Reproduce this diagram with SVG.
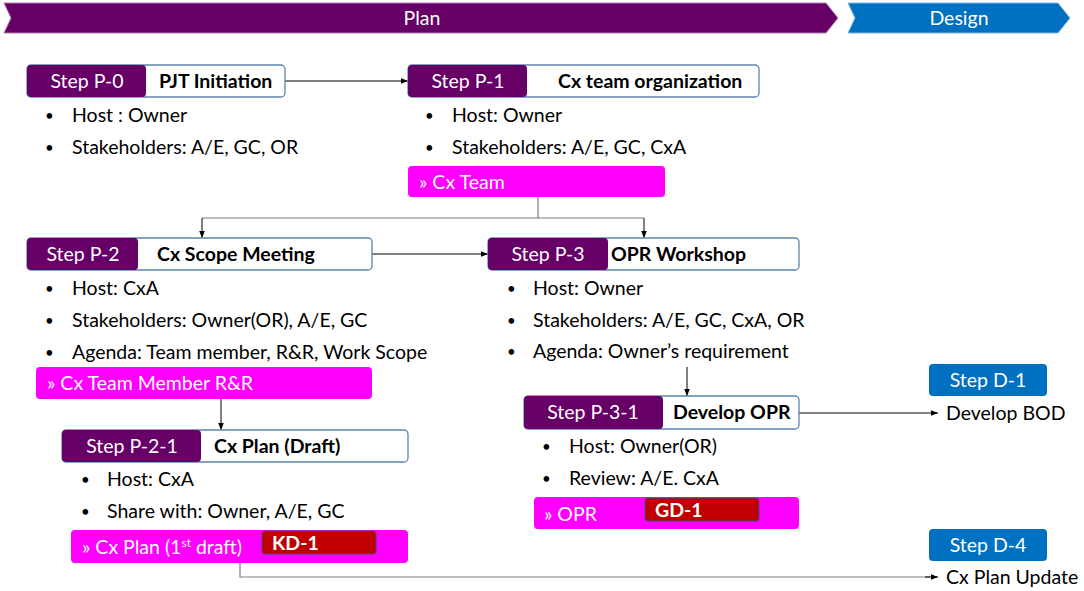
<svg xmlns="http://www.w3.org/2000/svg" width="1084" height="591" viewBox="0 0 1084 591">
<defs>
<marker id="ah" viewBox="0 0 10 10" refX="10" refY="5" markerWidth="7" markerHeight="7" markerUnits="userSpaceOnUse" orient="auto"><path d="M0,1 L10,5 L0,9 z" fill="#000"/></marker>
<style>
text{font-family:Lato,"Liberation Sans",sans-serif;font-size:19.5px;fill:#000}
.bl{font-size:15px}
.box{fill:#fff;stroke:#5b84b1;stroke-width:1.3}
.tab{fill:#660066}
.wt{fill:#fff}
.b{font-weight:bold}
.mag{fill:#ff00ff}
.red{fill:#c00000;stroke:#3d4f7a;stroke-width:1}
.blue{fill:#0070c0}
.ln{fill:none;stroke:#000;stroke-width:1}
.ln2{fill:none;stroke:#7f7f7f;stroke-width:1.2}
</style>
</defs>
<rect width="1084" height="591" fill="#fff"/>
<g id="phase-plan">
<path d="M4,3 L826,3 L838,18 L826,33 L4,33 L11,18 z" fill="#660066" stroke="#b07ab0" stroke-width="1"/>
<text x="422" y="25" class="wt" text-anchor="middle">Plan</text>
</g>
<g id="phase-design">
<path d="M848,3 L1058,3 L1070,18 L1058,33 L848,33 L855,18 z" fill="#0070c0" stroke="#7fb5e0" stroke-width="1"/>
<text x="959" y="25" class="wt" text-anchor="middle">Design</text>
</g>
<g id="connectors">
<line class="ln" x1="285" y1="81" x2="408" y2="81" marker-end="url(#ah)"/>
<polyline class="ln2" points="538,197 538,218 202,218" />
<line class="ln" x1="202" y1="218" x2="202" y2="238" marker-end="url(#ah)"/>
<polyline class="ln2" points="538,218 644,218"/>
<line class="ln" x1="644" y1="218" x2="644" y2="238" marker-end="url(#ah)"/>
<line class="ln" x1="372" y1="254" x2="488" y2="254" marker-end="url(#ah)"/>
<line class="ln" x1="221" y1="399" x2="221" y2="430" marker-end="url(#ah)"/>
<line class="ln" x1="687" y1="367" x2="687" y2="396" marker-end="url(#ah)"/>
<line class="ln" x1="799" y1="413" x2="938" y2="413" marker-end="url(#ah)"/>
<polyline class="ln2" points="240,563 240,577 930,577"/>
<line class="ln" x1="925" y1="577" x2="938" y2="577" marker-end="url(#ah)"/>
</g>
<g id="step-p0">
<rect class="box" x="27" y="65" width="258" height="32" rx="4"/>
<rect class="tab" x="27" y="65" width="119" height="32" rx="4"/>
<text x="87" y="88" class="wt" text-anchor="middle">Step P-0</text>
<text x="159" y="88" class="b">PJT Initiation</text>
<text x="45" y="121" class="bl">•</text><text x="72" y="122">Host : Owner</text>
<text x="45" y="153" class="bl">•</text><text x="72" y="154">Stakeholders: A/E, GC, OR</text>
</g>
<g id="step-p1">
<rect class="box" x="408" y="65" width="351" height="32" rx="4"/>
<rect class="tab" x="408" y="65" width="119" height="32" rx="4"/>
<text x="468" y="88" class="wt" text-anchor="middle">Step P-1</text>
<text x="558" y="88" class="b">Cx team organization</text>
<text x="425" y="121" class="bl">•</text><text x="452" y="122">Host: Owner</text>
<text x="425" y="153" class="bl">•</text><text x="452" y="154">Stakeholders: A/E, GC, CxA</text>
<rect class="mag" x="408" y="166" width="257" height="31" rx="4"/>
<text x="419" y="189" class="wt">» Cx Team</text>
</g>
<g id="step-p2">
<rect class="box" x="27" y="238" width="345" height="32" rx="4"/>
<rect class="tab" x="27" y="238" width="111" height="32" rx="4"/>
<text x="83" y="261" class="wt" text-anchor="middle">Step P-2</text>
<text x="157" y="261" class="b">Cx Scope Meeting</text>
<text x="45" y="294" class="bl">•</text><text x="72" y="295">Host: CxA</text>
<text x="45" y="326" class="bl">•</text><text x="72" y="327">Stakeholders: Owner(OR), A/E, GC</text>
<text x="45" y="358" class="bl">•</text><text x="72" y="359">Agenda: Team member, R&amp;R, Work Scope</text>
<rect class="mag" x="36" y="367" width="336" height="32" rx="4"/>
<text x="47" y="390" class="wt">» Cx Team Member R&amp;R</text>
</g>
<g id="step-p3">
<rect class="box" x="488" y="238" width="311" height="32" rx="4"/>
<rect class="tab" x="488" y="238" width="120" height="32" rx="4"/>
<text x="548" y="261" class="wt" text-anchor="middle">Step P-3</text>
<text x="611" y="261" class="b">OPR Workshop</text>
<text x="507" y="294" class="bl">•</text><text x="533" y="295">Host: Owner</text>
<text x="507" y="326" class="bl">•</text><text x="533" y="327">Stakeholders: A/E, GC, CxA, OR</text>
<text x="507" y="357" class="bl">•</text><text x="533" y="358">Agenda: Owner’s requirement</text>
</g>
<g id="step-p2-1">
<rect class="box" x="62" y="430" width="346" height="32" rx="4"/>
<rect class="tab" x="62" y="430" width="139" height="32" rx="4"/>
<text x="132" y="453" class="wt" text-anchor="middle">Step P-2-1</text>
<text x="214" y="453" class="b">Cx Plan (Draft)</text>
<text x="81" y="485" class="bl">•</text><text x="107" y="486">Host: CxA</text>
<text x="81" y="517" class="bl">•</text><text x="107" y="518">Share with: Owner, A/E, GC</text>
<rect class="mag" x="71" y="530" width="337" height="33" rx="4"/>
<text x="82" y="554" class="wt">» Cx Plan (1<tspan font-size="12" dy="-7">st</tspan><tspan dy="7"> draft)</tspan></text>
<rect class="red" x="262" y="531" width="114" height="23" rx="3"/>
<text x="272" y="550" class="wt b">KD-1</text>
</g>
<g id="step-p3-1">
<rect class="box" x="524" y="396" width="275" height="33" rx="4"/>
<rect class="tab" x="524" y="396" width="139" height="33" rx="4"/>
<text x="593" y="419" class="wt" text-anchor="middle">Step P-3-1</text>
<text x="673" y="419" class="b">Develop OPR</text>
<text x="542" y="452" class="bl">•</text><text x="569" y="453">Host: Owner(OR)</text>
<text x="542" y="484" class="bl">•</text><text x="569" y="485">Review: A/E. CxA</text>
<rect class="mag" x="534" y="497" width="265" height="32" rx="4"/>
<text x="544" y="521" class="wt">» OPR</text>
<rect class="red" x="645" y="498" width="114" height="23" rx="3"/>
<text x="655" y="517" class="wt b">GD-1</text>
</g>
<g id="step-d1">
<rect class="blue" x="929" y="364" width="118" height="32" rx="4"/>
<text x="988" y="387" class="wt" text-anchor="middle">Step D-1</text>
<text x="946" y="420">Develop BOD</text>
</g>
<g id="step-d4">
<rect class="blue" x="929" y="529" width="118" height="32" rx="4"/>
<text x="988" y="552" class="wt" text-anchor="middle">Step D-4</text>
<text x="946" y="584">Cx Plan Update</text>
</g>
</svg>
